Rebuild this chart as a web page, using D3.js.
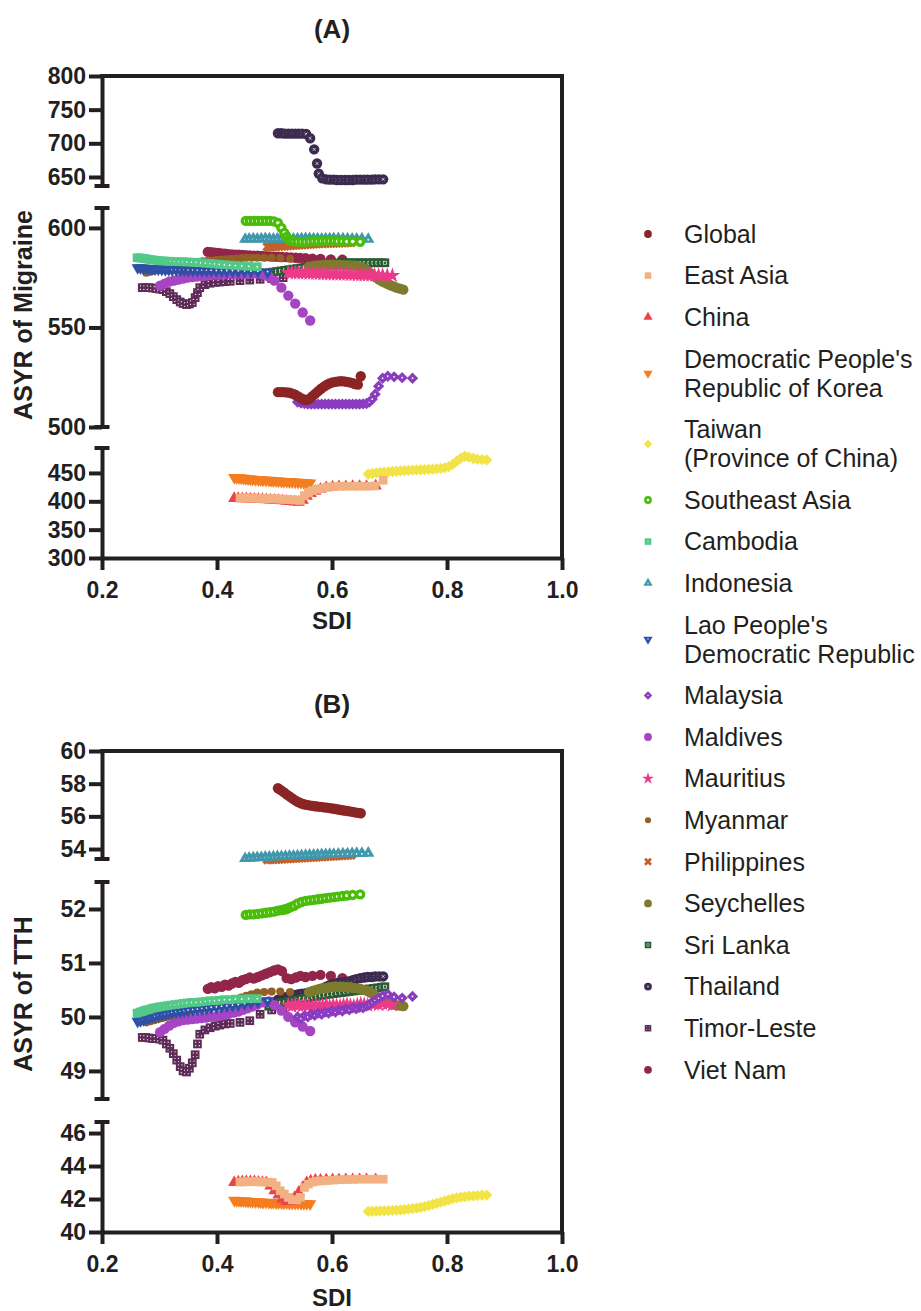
<!DOCTYPE html>
<html lang="en">
<head>
  <meta charset="UTF-8">
  <title>ASYR of Migraine and TTH by SDI</title>
  <style>
    body { margin: 0; background: #fff; }
    svg text { font-family: "Liberation Sans", Arial, sans-serif; }
  </style>
</head>
<body>
  <svg width="921" height="1311"></svg>
  <script src="https://cdn.jsdelivr.net/npm/d3@7/dist/d3.min.js"></script>
  <script>
    // legend order; "\n" marks the line break used in the legend
    var countries = ['Global', 'East Asia', 'China', "Democratic People's\nRepublic of Korea",
      'Taiwan\n(Province of China)', 'Southeast Asia', 'Cambodia', 'Indonesia',
      "Lao People's\nDemocratic Republic", 'Malaysia', 'Maldives', 'Mauritius', 'Myanmar',
      'Philippines', 'Seychelles', 'Sri Lanka', 'Thailand', 'Timor-Leste', 'Viet Nam']

    var colors = ['#8b2525', '#f3b183', '#ec4347', '#f47d20', '#f2e447', '#4abd0b', '#52c988',
      '#3f98ab', '#2f4fa6', '#8a3cbf', '#a744c4', '#ec3a8a', '#936026', '#c4612a', '#7e7b2e',
      '#2a5c33', '#3d2a4f', '#5e2b57', '#92264a']

    var markers = ['circle', 'square', 'triUp', 'triDown', 'diamond', 'ring', 'squareDot',
      'triUpDot', 'triDownDot', 'diamondDot', 'circle', 'star', 'circleS', 'x', 'circle',
      'squareBox', 'circleX', 'squareDots', 'circle']

    var sdiTicks = [0.2, 0.4, 0.6, 0.8, 1.0]
    var migraineTicks = [[650, 700, 750, 800], [500, 550, 600], [300, 350, 400, 450]]
    var tthTicks = [[54, 56, 58, 60], [49, 50, 51, 52], [40, 42, 44, 46]]

    // SDI per country, 1990-2019
    var sdi = [
      [0.506,0.511,0.516,0.521,0.526,0.531,0.536,0.541,0.546,0.551,0.556,0.561,0.566,0.571,0.576,0.581,0.586,0.591,0.596,0.601,0.606,0.611,0.616,0.621,0.626,0.631,0.636,0.640,0.645,0.650],
      [0.440,0.447,0.454,0.461,0.468,0.475,0.482,0.489,0.496,0.503,0.510,0.517,0.524,0.531,0.538,0.545,0.552,0.559,0.566,0.573,0.582,0.592,0.603,0.614,0.625,0.636,0.648,0.660,0.674,0.689],
      [0.430,0.437,0.444,0.451,0.458,0.465,0.472,0.479,0.486,0.493,0.500,0.507,0.514,0.521,0.528,0.535,0.542,0.549,0.556,0.563,0.571,0.580,0.590,0.601,0.612,0.624,0.636,0.648,0.660,0.676],
      [0.430,0.434,0.438,0.442,0.446,0.450,0.454,0.458,0.462,0.467,0.472,0.476,0.480,0.485,0.490,0.494,0.498,0.503,0.507,0.512,0.516,0.521,0.526,0.531,0.536,0.541,0.546,0.551,0.556,0.562],
      [0.663,0.670,0.677,0.684,0.691,0.698,0.705,0.712,0.719,0.726,0.733,0.740,0.747,0.754,0.761,0.768,0.775,0.782,0.789,0.796,0.803,0.810,0.817,0.824,0.831,0.838,0.846,0.853,0.861,0.869],
      [0.450,0.457,0.464,0.471,0.478,0.485,0.492,0.499,0.506,0.512,0.517,0.521,0.525,0.529,0.534,0.540,0.547,0.554,0.561,0.568,0.575,0.582,0.589,0.596,0.603,0.610,0.618,0.626,0.636,0.649],
      [0.261,0.266,0.270,0.274,0.278,0.282,0.287,0.292,0.297,0.302,0.308,0.314,0.320,0.327,0.334,0.341,0.348,0.356,0.364,0.372,0.380,0.388,0.396,0.404,0.413,0.422,0.432,0.443,0.455,0.470],
      [0.449,0.456,0.463,0.470,0.477,0.484,0.491,0.498,0.505,0.512,0.519,0.526,0.533,0.540,0.547,0.554,0.561,0.568,0.575,0.582,0.589,0.596,0.603,0.611,0.619,0.627,0.635,0.643,0.652,0.663],
      [0.262,0.267,0.272,0.277,0.282,0.287,0.292,0.298,0.304,0.310,0.316,0.322,0.329,0.336,0.343,0.350,0.358,0.366,0.374,0.382,0.390,0.399,0.408,0.417,0.427,0.437,0.448,0.459,0.471,0.488],
      [0.540,0.546,0.552,0.558,0.564,0.570,0.576,0.582,0.588,0.594,0.600,0.606,0.612,0.618,0.624,0.630,0.636,0.642,0.648,0.654,0.660,0.665,0.670,0.675,0.681,0.688,0.697,0.708,0.722,0.740],
      [0.301,0.309,0.317,0.325,0.333,0.341,0.349,0.357,0.365,0.373,0.381,0.389,0.397,0.405,0.413,0.421,0.429,0.437,0.445,0.453,0.461,0.470,0.480,0.490,0.500,0.512,0.524,0.536,0.549,0.562],
      [0.524,0.530,0.536,0.542,0.548,0.554,0.560,0.566,0.572,0.578,0.584,0.590,0.596,0.602,0.608,0.614,0.620,0.626,0.632,0.638,0.644,0.650,0.656,0.662,0.668,0.674,0.681,0.688,0.696,0.705],
      [0.277,0.284,0.291,0.298,0.305,0.312,0.319,0.326,0.333,0.340,0.347,0.354,0.361,0.368,0.375,0.383,0.391,0.399,0.407,0.415,0.424,0.433,0.442,0.451,0.460,0.470,0.482,0.495,0.510,0.527],
      [0.488,0.493,0.498,0.503,0.508,0.513,0.518,0.523,0.528,0.533,0.538,0.543,0.548,0.553,0.558,0.563,0.568,0.573,0.578,0.583,0.588,0.593,0.598,0.603,0.608,0.613,0.618,0.623,0.628,0.633],
      [0.560,0.566,0.572,0.578,0.584,0.590,0.596,0.602,0.608,0.614,0.620,0.626,0.632,0.638,0.644,0.650,0.656,0.662,0.667,0.672,0.677,0.682,0.687,0.692,0.697,0.702,0.707,0.712,0.718,0.724],
      [0.490,0.497,0.504,0.511,0.518,0.525,0.532,0.539,0.546,0.553,0.560,0.567,0.574,0.581,0.588,0.595,0.602,0.609,0.616,0.623,0.630,0.637,0.644,0.651,0.658,0.665,0.672,0.679,0.686,0.692],
      [0.506,0.512,0.518,0.524,0.530,0.536,0.542,0.548,0.555,0.562,0.569,0.574,0.577,0.583,0.590,0.596,0.603,0.609,0.616,0.623,0.629,0.636,0.642,0.649,0.656,0.662,0.669,0.675,0.682,0.689],
      [0.270,0.276,0.282,0.288,0.294,0.300,0.306,0.312,0.318,0.324,0.330,0.336,0.341,0.347,0.352,0.357,0.362,0.366,0.370,0.379,0.388,0.397,0.405,0.414,0.423,0.440,0.457,0.475,0.495,0.515],
      [0.384,0.390,0.396,0.402,0.408,0.414,0.420,0.426,0.432,0.438,0.444,0.450,0.457,0.464,0.471,0.478,0.485,0.492,0.499,0.506,0.513,0.521,0.529,0.537,0.545,0.554,0.566,0.580,0.598,0.618]
    ]

    // ASYR of migraine
    var migraine = [
      [517.5,517.5,517.5,517.4,517.2,516.8,516.2,515.4,514.5,513.8,513.5,514.2,515.5,516.8,518,519.2,520.3,521.2,521.9,522.4,522.7,522.9,523,522.9,522.7,522.4,522,521.6,521.3,525.5],
      [406,406,406,405.8,405.5,405.2,405,404.7,404.4,404.1,403.8,403.4,403,402.6,402.2,401.6,410,415,419,421,423,425,426,426.5,426.5,426.5,426.5,426.5,427,437],
      [405,405,404.8,404.6,404.3,404,403.7,403.4,403,402.6,402.2,401.6,401,400.4,399.6,399,398.5,402,409,414,418,421.5,424,425.5,426,426,426.2,426.2,426.5,427],
      [442,441.6,441.2,440.8,440.4,440,439.6,439.2,438.8,438.4,438,437.7,437.4,437.1,436.8,436.5,436.2,435.9,435.6,435.3,435,434.7,434.4,434.1,433.8,433.5,433.2,432.9,432.6,432.3],
      [448,449,450,450.8,451.5,452,452.5,453,453.5,454,454.5,455,455.3,455.6,456,456.4,456.8,457.3,458,459,461,465,471,476,479.5,478,475.5,474,473.5,473],
      [603.5,603.5,603.5,603.5,603.5,603.5,603.5,603.3,602.5,600,597.5,595.5,594.2,593.5,593.2,593,593,593,593.2,593.3,593.3,593.4,593.4,593.4,593.4,593.3,593.3,593.2,593.2,593],
      [585,584.9,584.8,584.6,584.4,584.2,584,583.8,583.6,583.5,583.4,583.3,583.2,583.1,583,583,582.9,582.8,582.7,582.5,582.3,582.1,581.9,581.7,581.5,581.3,581.1,580.9,580.7,580.5],
      [594.3,594.4,594.5,594.4,594.5,594.6,594.5,594.4,594.5,594.5,594.6,594.5,594.4,594.5,594.5,594.6,594.6,594.5,594.5,594.4,594.5,594.5,594.6,594.6,594.5,594.5,594.4,594.4,594.5,594.3],
      [580,579.9,579.8,579.7,579.6,579.5,579.4,579.3,579.2,579.1,579,578.9,578.9,578.8,578.8,578.7,578.7,578.6,578.6,578.5,578.5,578.4,578.4,578.3,578.3,578.2,578.2,578.1,578,577.8],
      [512.5,512,511.8,511.5,511.5,511.5,511.5,511.5,511.5,511.5,511.5,511.5,511.5,511.5,511.5,511.5,511.5,511.5,511.5,511.6,511.8,512.5,514,516.5,520.5,524.5,525.5,525.2,524.8,524.5],
      [571,572,573,573.5,574,574.5,575,575.3,575.6,575.9,576.1,576.3,576.5,576.6,576.7,576.8,576.9,577,577,577,577,577,576.6,575.5,573.5,570,566,562,557.5,553.5],
      [577.5,577.5,577.4,577.4,577.3,577.3,577.2,577.2,577.1,577.1,577,577,576.9,576.9,576.8,576.8,576.7,576.7,576.6,576.6,576.5,576.5,576.4,576.4,576.3,576.3,576.2,576.2,576.1,576.1],
      [577.5,578,578.5,579,579.5,580,580.5,581,581.4,581.8,582.2,582.5,582.8,583,583.2,583.4,583.6,583.8,584,584.2,584.4,584.6,584.8,585,585,585,585,585,584.8,584.5],
      [590.5,590.6,590.7,590.8,590.9,591,591.1,591.2,591.3,591.4,591.5,591.6,591.7,591.8,591.9,592,592.1,592.2,592.3,592.3,592.4,592.4,592.5,592.5,592.6,592.6,592.7,592.7,592.8,592.8],
      [580.5,580.8,581,581.2,581.3,581.4,581.5,581.5,581.5,581.4,581.3,581.2,581.1,581,580.8,580.4,579.8,578.5,577.2,576,575,574,573.2,572.5,571.8,571.2,570.6,570,569.5,569],
      [577.5,577.8,578.1,578.4,578.7,579,579.3,579.6,579.9,580.2,580.5,580.8,581.1,581.4,581.7,582,582.2,582.4,582.5,582.5,582.5,582.5,582.5,582.5,582.5,582.5,582.5,582.5,582.5,582.5],
      [715,715,714.5,714.5,714.5,714.5,714.5,714.5,714,707.5,691,670,655,648,646.5,646,646,645.5,645.5,645.5,645.5,645.5,646,646,646,646,646,646.5,646.5,646.5],
      [570,570,570,569.8,569.6,569.3,569,568,567,565.5,564,562.8,562,561.5,561.8,562.5,565,567.5,570,571.5,572.2,572.6,572.8,573,573.2,573.5,573.8,574.2,574.6,575],
      [588,587.8,587.6,587.4,587.2,587,586.8,586.7,586.6,586.5,586.4,586.3,586.2,586.1,586,585.9,585.8,585.7,585.6,585.5,585.4,585.3,585.2,585,584.9,584.8,584.6,584.4,584.2,584]
    ]

    // ASYR of tension-type headache
    var tth = [
      [57.72,57.6,57.48,57.35,57.22,57.1,56.98,56.88,56.8,56.74,56.7,56.67,56.64,56.62,56.6,56.58,56.55,56.53,56.5,56.48,56.45,56.42,56.39,56.36,56.33,56.3,56.27,56.24,56.21,56.19],
      [43.03,43.04,43.05,43.05,43.05,43.04,43.03,43.02,43.0,42.8,42.5,42.3,42.1,41.95,41.95,42.1,42.7,42.9,43.03,43.08,43.1,43.12,43.15,43.17,43.18,43.19,43.2,43.2,43.2,43.2],
      [43.0,43.04,43.06,43.06,43.06,43.05,43.03,43.01,43.0,42.8,42.5,42.25,42.0,41.85,41.85,42.1,42.4,42.7,43.0,43.1,43.14,43.15,43.16,43.17,43.17,43.18,43.18,43.18,43.18,43.18],
      [41.92,41.91,41.9,41.89,41.88,41.87,41.86,41.85,41.84,41.83,41.82,41.81,41.8,41.8,41.79,41.78,41.78,41.77,41.76,41.76,41.75,41.75,41.74,41.74,41.73,41.73,41.72,41.72,41.72,41.71],
      [41.25,41.26,41.27,41.28,41.29,41.3,41.31,41.32,41.34,41.36,41.39,41.42,41.45,41.49,41.54,41.6,41.67,41.74,41.81,41.88,41.95,42.02,42.07,42.11,42.14,42.17,42.19,42.21,42.23,42.24],
      [51.89,51.9,51.9,51.91,51.92,51.93,51.94,51.95,51.97,51.98,51.99,52.0,52.02,52.04,52.06,52.1,52.13,52.15,52.16,52.17,52.18,52.19,52.2,52.21,52.22,52.23,52.24,52.25,52.26,52.27],
      [50.07,50.09,50.1,50.12,50.13,50.14,50.16,50.17,50.18,50.19,50.2,50.21,50.22,50.23,50.24,50.25,50.26,50.27,50.27,50.28,50.29,50.3,50.3,50.31,50.32,50.32,50.33,50.33,50.34,50.34],
      [53.42,53.44,53.46,53.47,53.48,53.5,53.51,53.52,53.53,53.54,53.55,53.56,53.57,53.58,53.6,53.61,53.62,53.63,53.64,53.65,53.66,53.67,53.68,53.69,53.7,53.71,53.72,53.73,53.74,53.75],
      [49.92,49.93,49.95,49.97,49.98,50.0,50.01,50.03,50.04,50.05,50.07,50.08,50.09,50.1,50.11,50.12,50.13,50.14,50.15,50.16,50.17,50.18,50.19,50.2,50.21,50.22,50.24,50.26,50.28,50.3],
      [50.0,49.97,50.02,50.0,50.05,50.03,50.07,50.05,50.09,50.07,50.11,50.09,50.13,50.11,50.15,50.13,50.17,50.15,50.18,50.17,50.2,50.23,50.27,50.31,50.35,50.39,50.42,50.37,50.35,50.38],
      [49.72,49.78,49.84,49.89,49.92,49.94,49.95,49.96,49.97,49.98,49.99,50.0,50.0,50.02,50.04,50.06,50.08,50.1,50.13,50.16,50.19,50.23,50.27,50.29,50.22,50.12,50.0,49.9,49.82,49.74],
      [50.22,50.2,50.23,50.21,50.2,50.22,50.21,50.19,50.22,50.2,50.21,50.23,50.2,50.22,50.21,50.2,50.22,50.23,50.21,50.2,50.22,50.24,50.23,50.22,50.25,50.24,50.23,50.25,50.24,50.22],
      [49.9,49.92,49.94,49.96,49.98,50.0,50.02,50.04,50.06,50.08,50.1,50.12,50.14,50.16,50.18,50.2,50.22,50.24,50.26,50.28,50.3,50.33,50.36,50.39,50.42,50.45,50.46,50.47,50.47,50.46],
      [53.36,53.37,53.38,53.39,53.4,53.41,53.42,53.43,53.44,53.45,53.46,53.47,53.48,53.49,53.5,53.51,53.52,53.53,53.54,53.55,53.56,53.57,53.58,53.59,53.6,53.61,53.62,53.63,53.64,53.65],
      [50.46,50.48,50.5,50.52,50.53,50.54,50.55,50.56,50.56,50.56,50.56,50.55,50.55,50.54,50.53,50.52,50.5,50.48,50.45,50.42,50.38,50.35,50.32,50.29,50.27,50.25,50.23,50.22,50.21,50.2],
      [50.2,50.22,50.24,50.26,50.27,50.28,50.3,50.31,50.33,50.34,50.35,50.37,50.38,50.4,50.41,50.42,50.43,50.44,50.45,50.46,50.47,50.48,50.49,50.5,50.51,50.52,50.53,50.54,50.55,50.56],
      [50.32,50.34,50.36,50.38,50.4,50.41,50.42,50.43,50.44,50.45,50.47,50.49,50.5,50.53,50.56,50.59,50.61,50.63,50.64,50.65,50.66,50.68,50.7,50.72,50.73,50.74,50.74,50.75,50.75,50.75],
      [49.62,49.62,49.61,49.6,49.6,49.59,49.57,49.5,49.42,49.32,49.2,49.08,49.0,48.98,49.05,49.15,49.3,49.5,49.68,49.76,49.8,49.83,49.85,49.87,49.88,49.9,49.93,50.05,50.13,50.12],
      [50.52,50.55,50.53,50.57,50.56,50.6,50.58,50.62,50.65,50.63,50.68,50.7,50.73,50.71,50.74,50.77,50.8,50.83,50.86,50.88,50.85,50.72,50.7,50.73,50.76,50.74,50.76,50.78,50.76,50.72]
    ]

    var svg = d3.select('svg')
    var ink = '#231f20'
    var font = '"Liberation Sans", Arial, sans-serif'
    var left = 102, right = 562

    var x = d3.scaleLinear().domain([0.2, 1.0]).range([left, right])

    // broken y axis: three pieces per panel
    var panels = [
      { title: '(A)', ylabel: 'ASYR of Migraine', values: migraine, ticks: migraineTicks,
        top: 76, bottom: 558, titleY: 38, xlabY: 629, ylabY: 315,
        segs: [{ domain: [636.6, 800], range: [186, 76] },
               { domain: [500, 610], range: [427, 208] },
               { domain: [300, 494], range: [558, 448] }] },
      { title: '(B)', ylabel: 'ASYR of TTH', values: tth, ticks: tthTicks,
        top: 751, bottom: 1232, titleY: 713, xlabY: 1306, ylabY: 994,
        segs: [{ domain: [53.39, 60], range: [859, 751] },
               { domain: [48.48, 52.5], range: [1099, 882] },
               { domain: [40, 46.67], range: [1232, 1122] }] }
    ]

    function styleAxis(ag) {
      ag.attr('color', ink)
        .attr('font-family', font)
        .attr('font-size', 23)
        .attr('font-weight', 700)
      ag.selectAll('line, path').attr('stroke-width', 4)
    }

    function yOf(p, v) {
      var best = p.segs[0], dist = Infinity
      p.segs.forEach(function (s) {
        var d = v < s.domain[0] ? s.domain[0] - v : (v > s.domain[1] ? v - s.domain[1] : 0)
        if (d < dist) { dist = d; best = s }
      })
      return best.scale(v)
    }

    // draws one marker into every group of the selection
    function addMarker(sel, kind, color, k) {
      function shape(type, size, rot) {
        sel.append('path')
          .attr('d', d3.symbol(type, size * k * k))
          .attr('fill', color)
          .attr('transform', rot ? 'rotate(' + rot + ')' : null)
      }
      function dot(r, dx, dy) {
        sel.append('circle')
          .attr('cx', (dx || 0) * k).attr('cy', (dy || 0) * k)
          .attr('r', r * k).attr('fill', '#fff')
      }
      switch (kind) {
        case 'circle': shape(d3.symbolCircle, 84); break
        case 'circleS': shape(d3.symbolCircle, 52); break
        case 'square': shape(d3.symbolSquare, 76); break
        case 'triUp': shape(d3.symbolTriangle, 66); break
        case 'triDown': shape(d3.symbolTriangle, 66, 180); break
        case 'diamond': shape(d3.symbolSquare, 64, 45); break
        case 'ring': shape(d3.symbolCircle, 84); dot(1.8); break
        case 'squareDot': shape(d3.symbolSquare, 76); dot(0.9); break
        case 'triUpDot': shape(d3.symbolTriangle, 66); dot(0.9, 0, 0.5); break
        case 'triDownDot': shape(d3.symbolTriangle, 66, 180); dot(0.9, 0, -0.5); break
        case 'diamondDot': shape(d3.symbolSquare, 64, 45); dot(0.9); break
        case 'star': shape(d3.symbolStar, 78); break
        case 'x': shape(d3.symbolCross, 70, 45); break
        case 'squareBox':
          shape(d3.symbolSquare, 76)
          sel.append('rect')
            .attr('x', -1.5 * k).attr('y', -1.5 * k)
            .attr('width', 3 * k).attr('height', 3 * k)
            .attr('fill', 'none').attr('stroke', '#fff').attr('stroke-width', 0.6 * k)
          break
        case 'circleX':
          shape(d3.symbolCircle, 84)
          sel.append('path')
            .attr('d', 'M' + (-1.4 * k) + ',' + (-1.4 * k) + 'L' + (1.4 * k) + ',' + (1.4 * k) +
                       'M' + (1.4 * k) + ',' + (-1.4 * k) + 'L' + (-1.4 * k) + ',' + (1.4 * k))
            .attr('stroke', '#fff').attr('stroke-width', 0.7 * k)
          break
        case 'squareDots':
          shape(d3.symbolSquare, 76)
          dot(0.65, -1.8, -1.8); dot(0.65, 1.8, -1.8); dot(0.65, -1.8, 1.8); dot(0.65, 1.8, 1.8)
          break
      }
    }

    function cap(g, y) {
      g.append('line')
        .attr('x1', left - 7.5).attr('x2', left + 7.5)
        .attr('y1', y).attr('y2', y)
        .attr('stroke', ink).attr('stroke-width', 4)
    }

    panels.forEach(function (p) {
      var g = svg.append('g')

      // y axis pieces
      p.segs.forEach(function (s, i) {
        s.scale = d3.scaleLinear().domain(s.domain).range(s.range)
        var ag = g.append('g')
          .attr('transform', 'translate(' + left + ',0)')
          .call(d3.axisLeft(s.scale).tickValues(p.ticks[i]).tickFormat(d3.format('d'))
            .tickSize(13).tickSizeOuter(0).tickPadding(3))
        styleAxis(ag)
        if (i > 0) cap(g, s.range[1])
        if (i < p.segs.length - 1) cap(g, s.range[0])
      })

      // x axis
      var xg = g.append('g')
        .attr('transform', 'translate(0,' + p.bottom + ')')
        .call(d3.axisBottom(x).tickValues(sdiTicks).tickFormat(d3.format('.1f')).tickSize(12).tickSizeOuter(0))
      styleAxis(xg)
      xg.selectAll('text').attr('y', 40).attr('dy', 0)

      // frame top and right
      g.append('path')
        .attr('d', 'M' + left + ',' + p.top + 'H' + right + 'V' + p.bottom)
        .attr('fill', 'none').attr('stroke', ink).attr('stroke-width', 4)
        .attr('stroke-linecap', 'square')

      // titles
      g.append('text')
        .attr('x', (left + right) / 2).attr('y', p.titleY)
        .attr('text-anchor', 'middle').attr('font-size', 26).attr('font-weight', 700)
        .attr('fill', ink).text(p.title)
      g.append('text')
        .attr('x', (left + right) / 2).attr('y', p.xlabY)
        .attr('text-anchor', 'middle').attr('font-size', 24).attr('font-weight', 700)
        .attr('fill', ink).text('SDI')
      g.append('text')
        .attr('transform', 'translate(32,' + p.ylabY + ') rotate(-90)')
        .attr('text-anchor', 'middle').attr('font-size', 25).attr('font-weight', 700)
        .attr('fill', ink).text(p.ylabel)

      // points: first legend entry ends up on top
      var plot = g.append('g')
      d3.range(countries.length).reverse().forEach(function (si) {
        var pts = sdi[si].map(function (s, j) { return { x: s, v: p.values[si][j] } })
        var sel = plot.append('g')
          .selectAll('g')
          .data(pts)
          .join('g')
          .attr('transform', function (d) { return 'translate(' + x(d.x) + ',' + yOf(p, d.v) + ')' })
        addMarker(sel, markers[si], colors[si], 1)
      })
    })

    // legend
    var legend = svg.append('g')
    var ly = 234, prevHalf = 0
    countries.forEach(function (name, i) {
      var lines = name.split('\n')
      var half = 20.8 + 14.5 * (lines.length - 1)
      if (i > 0) ly += prevHalf + half
      prevHalf = half

      var mk = legend.append('g').attr('transform', 'translate(648,' + ly + ')')
      addMarker(mk, markers[i], colors[i], 0.75)

      legend.append('text')
        .attr('x', 684).attr('y', ly)
        .attr('font-size', 25).attr('fill', ink)
        .selectAll('tspan')
        .data(lines)
        .join('tspan')
        .attr('x', 684)
        .attr('y', function (d, j) { return ly + (j - (lines.length - 1) / 2) * 29 })
        .attr('dy', '0.35em')
        .text(function (d) { return d })
    })
  </script>
</body>
</html>
